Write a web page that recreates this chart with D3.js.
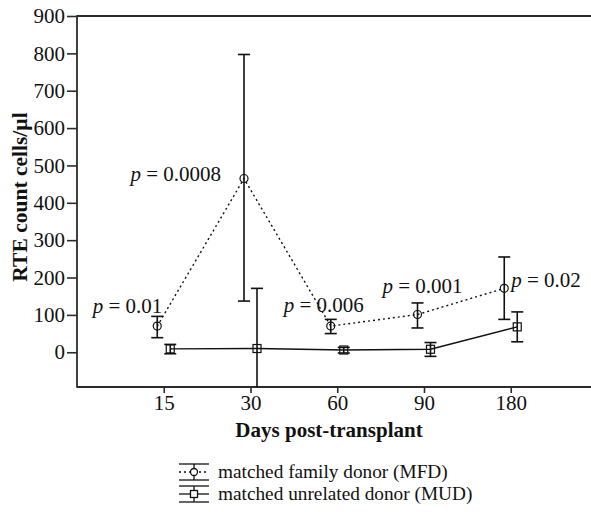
<!DOCTYPE html>
<html>
<head>
<meta charset="utf-8">
<script src="https://cdn.jsdelivr.net/npm/d3@7"></script>
<style>
  body { margin: 0; background: #fff; }
  svg { display: block; }
  text { font-family: "Liberation Serif", "DejaVu Serif", serif; fill: #111; }
</style>
</head>
<body>
<svg id="chart" width="591" height="512"></svg>
<script>
// days post-transplant (categorical)
var days = ['15', '30', '60', '90', '180']

// matched family donor (MFD)
var mfdMean = [70, 465, 70, 101, 171]
var mfdLow  = [39, 137, 50, 65, 88]
var mfdHigh = [96, 797, 88, 132, 255]

// matched unrelated donor (MUD)
var mudMean = [9, 10, 6, 8, 68]
var mudLow  = [-4, -151, -2, -11, 28]
var mudHigh = [21, 171, 13, 26, 108]

// p-values per day
var pValues = ['0.01', '0.0008', '0.006', '0.001', '0.02']

var yTicks = [0, 100, 200, 300, 400, 500, 600, 700, 800, 900]

var svg = d3.select('#chart')
var W = 591, H = 512
var plotLeft = 77, plotTop = 16, plotBottom = 387

var x = d3.scaleLinear().domain([0, 6]).range([plotLeft, plotLeft + 6 * 86.75])
var y = d3.scaleLinear().domain([-93, 900]).range([plotBottom, plotTop])

var axisColor = '#2b2b2b'

// clip for data
svg.append('clipPath').attr('id', 'plotclip')
  .append('rect').attr('x', plotLeft).attr('y', plotTop)
  .attr('width', W - plotLeft).attr('height', plotBottom - plotTop)

// y axis
var yAxis = svg.append('g').attr('transform', 'translate(' + plotLeft + ',0)')
  .call(d3.axisLeft(y).tickValues(yTicks).tickSize(10).tickPadding(2).tickSizeOuter(0))
yAxis.select('.domain').remove()
yAxis.selectAll('.tick line').attr('stroke', axisColor).attr('stroke-width', 1.6)
yAxis.selectAll('.tick text').attr('font-size', 21).attr('font-family', '"Liberation Serif", serif').attr('fill', '#111')

// x axis
var xAxis = svg.append('g').attr('transform', 'translate(0,' + plotBottom + ')')
  .call(d3.axisBottom(x).tickValues([1, 2, 3, 4, 5])
    .tickFormat(function (d) { return days[d - 1] }).tickSize(6).tickPadding(2))
xAxis.select('.domain').remove()
xAxis.selectAll('.tick line').attr('stroke', axisColor).attr('stroke-width', 1.6)
xAxis.selectAll('.tick text').attr('font-size', 21).attr('font-family', '"Liberation Serif", serif').attr('fill', '#111')

// frame lines (left, bottom, top)
svg.append('line').attr('x1', plotLeft).attr('x2', plotLeft).attr('y1', plotTop - 0.8).attr('y2', plotBottom + 0.8)
  .attr('stroke', axisColor).attr('stroke-width', 1.8)
svg.append('line').attr('x1', plotLeft).attr('x2', W).attr('y1', plotBottom).attr('y2', plotBottom)
  .attr('stroke', axisColor).attr('stroke-width', 1.8)
svg.append('line').attr('x1', plotLeft).attr('x2', W).attr('y1', plotTop).attr('y2', plotTop)
  .attr('stroke', axisColor).attr('stroke-width', 1.8)

// axis titles
svg.append('text')
  .attr('x', 329).attr('y', 437)
  .attr('text-anchor', 'middle')
  .attr('font-size', 21).attr('font-weight', 'bold')
  .text('Days post-transplant')

svg.append('text')
  .attr('transform', 'translate(27,197) rotate(-90)')
  .attr('text-anchor', 'middle')
  .attr('font-size', 21.5).attr('font-weight', 'bold')
  .text('RTE count cells/\u00b5l')

var plot = svg.append('g').attr('clip-path', 'url(#plotclip)')

function series(mean, low, high, off) {
  return days.map(function (d, i) {
    return { cx: x(i + 1) + off, m: mean[i], lo: low[i], hi: high[i] }
  })
}
var mfd = series(mfdMean, mfdLow, mfdHigh, -6.5)
var mud = series(mudMean, mudLow, mudHigh, 6.5)

var line = d3.line().x(function (d) { return d.cx }).y(function (d) { return y(d.m) })

plot.append('path').datum(mfd).attr('d', line)
  .attr('fill', 'none').attr('stroke', '#111').attr('stroke-width', 1.4).attr('stroke-dasharray', '2,3')
plot.append('path').datum(mud).attr('d', line)
  .attr('fill', 'none').attr('stroke', '#111').attr('stroke-width', 1.4)

function errorBars(data) {
  var g = plot.append('g').attr('stroke', '#111').attr('stroke-width', 1.6)
  data.forEach(function (d) {
    g.append('line').attr('x1', d.cx).attr('x2', d.cx).attr('y1', y(d.lo)).attr('y2', y(d.hi))
    g.append('line').attr('x1', d.cx - 6).attr('x2', d.cx + 6).attr('y1', y(d.lo)).attr('y2', y(d.lo))
    g.append('line').attr('x1', d.cx - 6).attr('x2', d.cx + 6).attr('y1', y(d.hi)).attr('y2', y(d.hi))
  })
}
errorBars(mfd)
errorBars(mud)

plot.selectAll('circle.mfd').data(mfd).enter().append('circle')
  .attr('cx', function (d) { return d.cx }).attr('cy', function (d) { return y(d.m) })
  .attr('r', 4).attr('fill', 'none').attr('stroke', '#111').attr('stroke-width', 1.2)

plot.selectAll('rect.mud').data(mud).enter().append('rect')
  .attr('x', function (d) { return d.cx - 4 }).attr('y', function (d) { return y(d.m) - 4 })
  .attr('width', 8).attr('height', 8).attr('fill', 'none').attr('stroke', '#111').attr('stroke-width', 1.2)

// p-value annotations, placed relative to the MFD points
var pPlace = [
  { dx: 5, dy: -13, anchor: 'end' },
  { dx: -23, dy: 2, anchor: 'end' },
  { dx: -47, dy: -14, anchor: 'start' },
  { dx: -35, dy: -22, anchor: 'start' },
  { dx: 7, dy: -1, anchor: 'start' }
]
mfd.forEach(function (d, i) {
  var t = svg.append('text')
    .attr('x', d.cx + pPlace[i].dx).attr('y', y(d.m) + pPlace[i].dy)
    .attr('text-anchor', pPlace[i].anchor).attr('font-size', 21)
  t.append('tspan').attr('font-style', 'italic').text('p')
  t.append('tspan').text(' = ' + pValues[i])
})

// legend
var legend = [
  { label: 'matched family donor (MFD)', cy: 472, dash: '2,3', shape: 'circle' },
  { label: 'matched unrelated donor (MUD)', cy: 494, dash: null, shape: 'square' }
]
legend.forEach(function (l) {
  var g = svg.append('g').attr('stroke', '#111').attr('stroke-width', 1.3).attr('fill', 'none')
  var x0 = 179, x1 = 209, cx = 194
  g.append('line').attr('x1', x0).attr('x2', x1).attr('y1', l.cy - 8).attr('y2', l.cy - 8)
  g.append('line').attr('x1', x0).attr('x2', x1).attr('y1', l.cy + 8).attr('y2', l.cy + 8)
  g.append('line').attr('x1', cx).attr('x2', cx).attr('y1', l.cy - 8).attr('y2', l.cy + 8)
  g.append('line').attr('x1', x0).attr('x2', x1).attr('y1', l.cy).attr('y2', l.cy)
    .attr('stroke-dasharray', l.dash)
  if (l.shape === 'circle') {
    g.append('circle').attr('cx', cx).attr('cy', l.cy).attr('r', 3.5).attr('fill', '#fff')
  } else {
    g.append('rect').attr('x', cx - 3.5).attr('y', l.cy - 3.5).attr('width', 7).attr('height', 7).attr('fill', '#fff')
  }
  svg.append('text').attr('x', 218).attr('y', l.cy + 6).attr('font-size', 19.3).text(l.label)
})
</script>
</body>
</html>
